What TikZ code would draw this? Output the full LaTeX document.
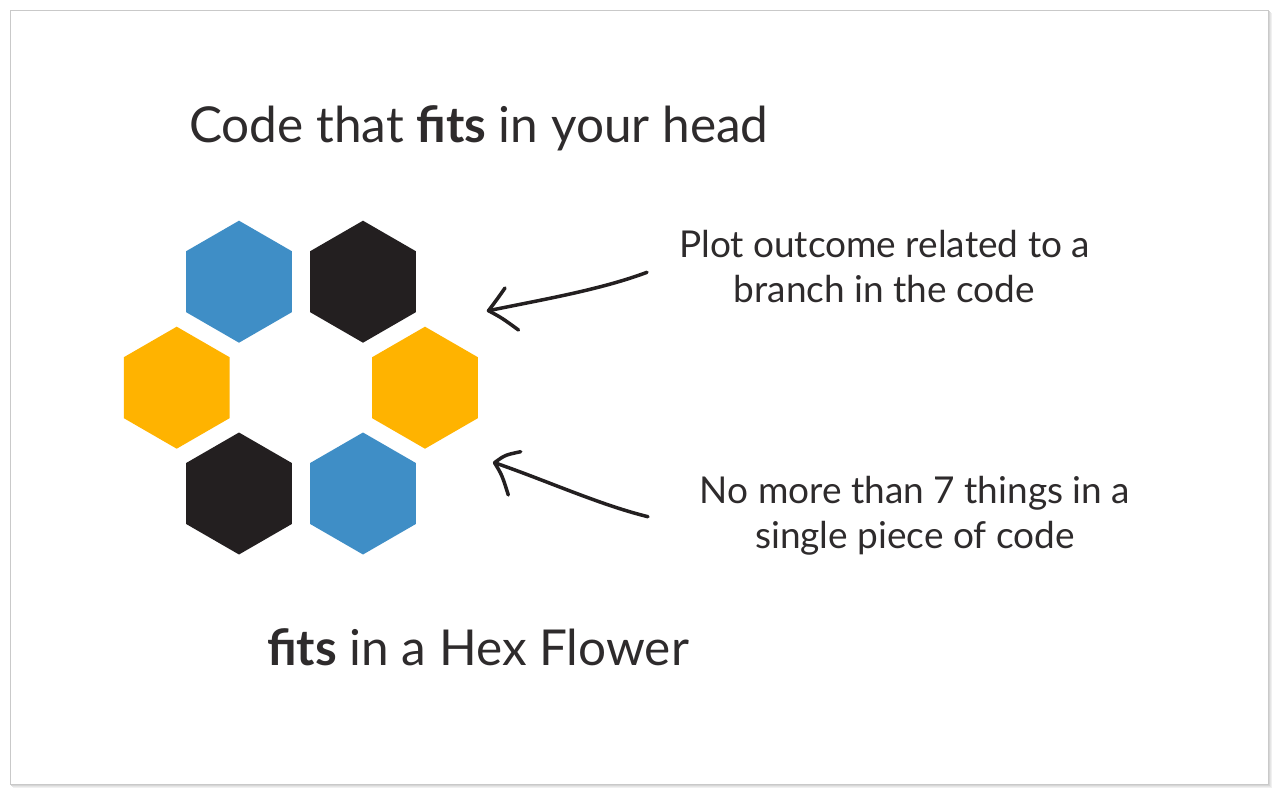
\documentclass[tikz,border=0pt]{standalone}
\usepackage{fontspec}
\setmainfont{Lato}
\usetikzlibrary{shapes.geometric}
\definecolor{hexblue}{HTML}{3F8EC6}
\definecolor{hexblack}{HTML}{231F20}
\definecolor{hexyellow}{HTML}{FFB300}
\definecolor{txt}{HTML}{2E2B2C}
\definecolor{framegray}{HTML}{C9C9C9}
\begin{document}
\begin{tikzpicture}[x=1pt,y=-1pt,
  hexa/.style={regular polygon, regular polygon sides=6, shape border rotate=30,
    minimum size=122pt, inner sep=0pt, outer sep=0pt, draw=none},
  label text/.style={text=txt, align=center, font=\fontsize{37}{45}\selectfont},
  sketch/.style={draw=hexblack, line width=3.5pt, line cap=round, line join=round},
]
\useasboundingbox (0,0) rectangle (1278,794);
% frame with soft shadow
\fill[black!6] (13,13) rectangle (1272,788);
\fill[black!10] (12,12) rectangle (1270.5,786.5);
\fill[black!16] (11,11) rectangle (1269.5,785.5);
\filldraw[fill=white, draw=framegray, line width=0.8pt] (10,10) rectangle (1268,784);

% title
\node[anchor=base west, inner sep=0pt, text=txt, font=\fontsize{49.5}{58}\selectfont] (title) at (189,143)
  {Code that \textbf{fits} in your head};

% hex flower
\node[hexa, fill=hexblue]   (h1) at (239,281.7) {};
\node[hexa, fill=hexblack]  (h2) at (363,281.7) {};
\node[hexa, fill=hexyellow] (h3) at (176.7,387.7) {};
\node[hexa, fill=hexyellow] (h4) at (425,387.7) {};
\node[hexa, fill=hexblack]  (h5) at (239,493.5) {};
\node[hexa, fill=hexblue]   (h6) at (363,493.5) {};

% labels (base anchor = baseline of last line)
\node[label text, anchor=base] (lab1) at (884.5,303) {Plot outcome related to a\\branch in the code};
\node[label text, anchor=base] (lab2) at (915,548) {No more than 7 things in a\\single piece of code};

% bottom caption
\node[anchor=base west, inner sep=0pt, text=txt, font=\fontsize{49.5}{58}\selectfont] (caption) at (267,665)
  {\textbf{fits} in a Hex Flower};

% hand-drawn arrows
\coordinate (a1s) at (647,272.3);
\coordinate (a1t) at (488.5,310.7);
\coordinate (a1u) at (505,288);
\coordinate (a1d) at (518.5,330);
\draw[sketch] (a1s) .. controls (600,290) and (540,300) .. (a1t);
\draw[sketch] (a1u) .. controls (498,298) .. (a1t) .. controls (502,318) .. (a1d);

\coordinate (a2s) at (648,516.7);
\coordinate (a2t) at (494.5,462.7);
\coordinate (a2u) at (520.7,451.7);
\coordinate (a2d) at (508.3,495);
\draw[sketch] (a2s) .. controls (600,505) and (545,480) .. (a2t);
\draw[sketch] (a2u) .. controls (505,455) .. (a2t) .. controls (502,475) .. (a2d);
\end{tikzpicture}
\end{document}
